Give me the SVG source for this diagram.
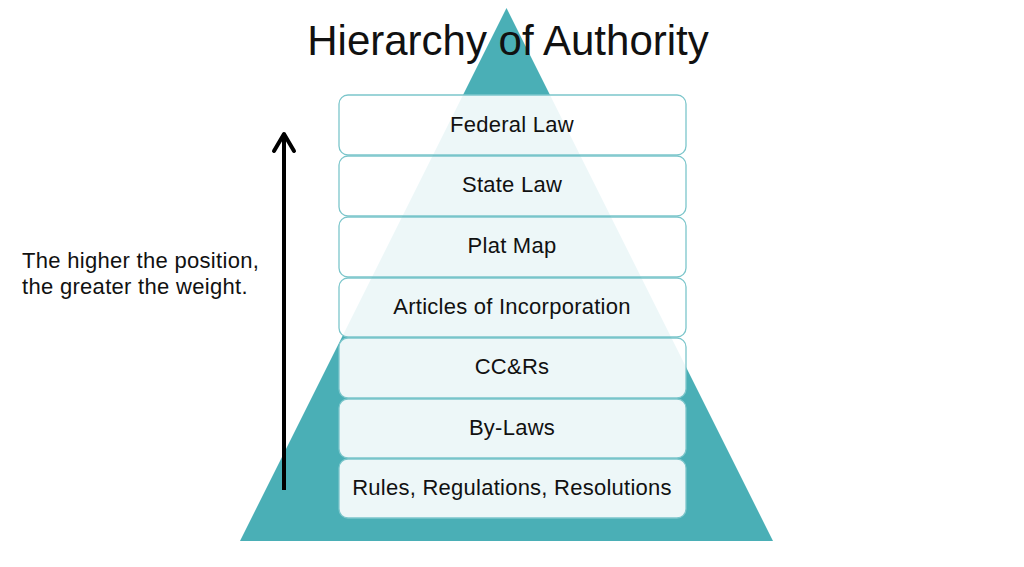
<svg xmlns="http://www.w3.org/2000/svg" width="1024" height="567" viewBox="0 0 1024 567">
<style>
.t{font-family:"Liberation Sans",Arial,sans-serif;fill:#111;}
.box{fill:#ffffff;fill-opacity:0.9;stroke:#7cc6cb;stroke-width:1.3;}
.lbl{font-size:22px;letter-spacing:0.25px;text-anchor:middle;}
.note{font-size:22px;letter-spacing:0.3px;}
</style>
<rect width="1024" height="567" fill="#ffffff"/>
<polygon id="pyramid" points="506.5,8 240,541 773,541" fill="#4aafb6"/>
<text class="t" x="508" y="55" font-size="42" text-anchor="middle">Hierarchy of Authority</text>
<g id="federal"><rect class="box" x="339" y="95" width="347" height="60" rx="9"/><text class="t lbl" x="512" y="132">Federal Law</text></g>
<g id="state"><rect class="box" x="339" y="156" width="347" height="60" rx="9"/><text class="t lbl" x="512" y="192">State Law</text></g>
<g id="plat"><rect class="box" x="339" y="217" width="347" height="60" rx="9"/><text class="t lbl" x="512" y="253">Plat Map</text></g>
<g id="articles"><rect class="box" x="339" y="278" width="347" height="59" rx="9"/><text class="t lbl" x="512" y="314">Articles of Incorporation</text></g>
<g id="ccrs"><rect class="box" x="339" y="338" width="347" height="60" rx="9"/><text class="t lbl" x="512" y="374">CC&amp;Rs</text></g>
<g id="bylaws"><rect class="box" x="339" y="399" width="347" height="59" rx="9"/><text class="t lbl" x="512" y="435">By-Laws</text></g>
<g id="rules"><rect class="box" x="339" y="459" width="347" height="59" rx="9"/><text class="t lbl" x="512" y="495">Rules, Regulations, Resolutions</text></g>
<g id="connectors">
<line x1="284" y1="490" x2="284" y2="134" stroke="#000" stroke-width="4"/>
<polyline points="274,151 284,134 294,151" fill="none" stroke="#000" stroke-width="4" stroke-linecap="round" stroke-linejoin="round"/>
</g>
<g id="note">
<text class="t note" x="22" y="268">The higher the position,</text>
<text class="t note" x="22" y="294">the greater the weight.</text>
</g>
</svg>
